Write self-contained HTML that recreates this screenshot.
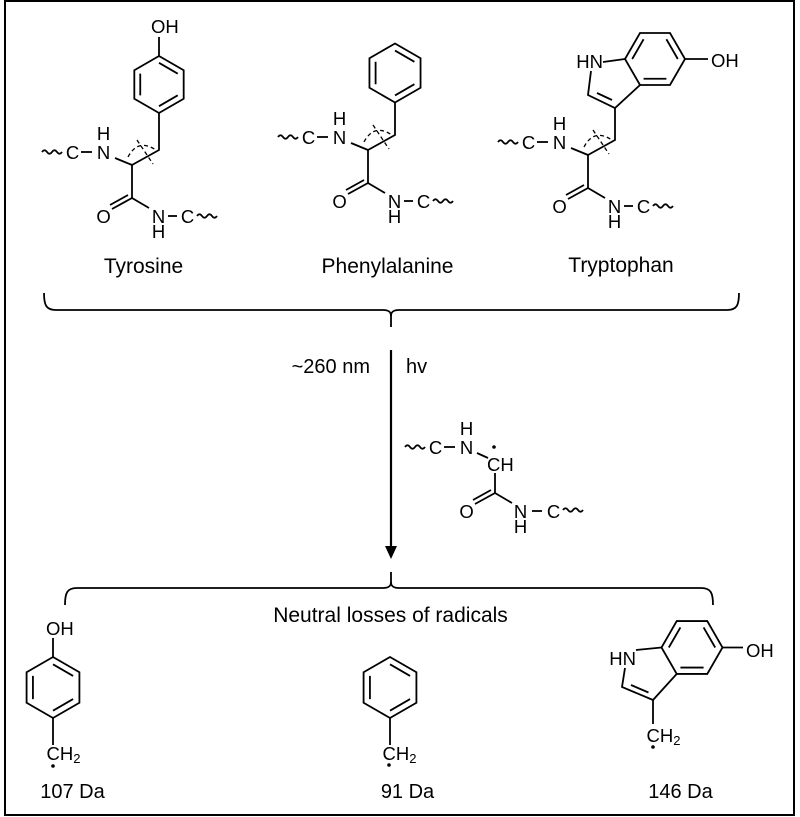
<!DOCTYPE html>
<html>
<head>
<meta charset="utf-8">
<style>
html,body{margin:0;padding:0;background:#fff;}
svg{display:block;}
text{font-family:"Liberation Sans",Arial,sans-serif;fill:#000;stroke:none;}
.a{font-size:18.5px;text-anchor:middle;}
.as{font-size:18.5px;}
.lbl{font-size:21px;text-anchor:middle;}
.da{font-size:20px;text-anchor:middle;}
.sub{font-size:13px;}
.ln{stroke:#000;stroke-width:1.8;fill:none;}
.dash{stroke:#000;stroke-width:1.3;fill:none;stroke-dasharray:4 3;}
.ring{stroke:#000;stroke-width:1.8;fill:none;}
</style>
</head>
<body>
<svg width="800" height="817" viewBox="0 0 800 817" xmlns="http://www.w3.org/2000/svg">
<rect x="5" y="1" width="789" height="814" fill="none" stroke="#000" stroke-width="2"/>

<!-- ============ TYROSINE (top) ============ -->
<g transform="translate(159,84.5) scale(28.5)">
  <path class="ring" vector-effect="non-scaling-stroke" d="M0,-1 L.866,-.5 L.866,.5 L0,1 L-.866,.5 L-.866,-.5 Z"/>
  <path class="ring" vector-effect="non-scaling-stroke" d="M0,-.76 L.658,-.38 M.658,.38 L0,.76 M-.658,.38 L-.658,-.38"/>
</g>
<line class="ln" x1="159" y1="37" x2="159" y2="56"/>
<text class="as" x="151" y="33">OH</text>
<g transform="translate(132,165)">
  <path class="ln" d="M0,0 L27,-15 L27,-52"/>
  <path class="dash" d="M5,-25 L21,-1"/>
  <path class="dash" d="M-4,-8 Q6,-27 24,-15"/>
  <path class="ln" d="M-90,-13 q2.5,-3.5 5,0 t5,0 t5,0 t5,0"/>
  <text class="a" x="-59.5" y="-6">C</text>
  <line class="ln" x1="-51" y1="-13" x2="-40" y2="-13"/>
  <text class="a" x="-28.5" y="-6">N</text>
  <text class="a" x="-28.5" y="-25">H</text>
  <line class="ln" x1="-17" y1="-7" x2="0" y2="0"/>
  <line class="ln" x1="0" y1="0" x2="0" y2="33"/>
  <line class="ln" x1="0" y1="33" x2="-20" y2="44"/>
  <line class="ln" x1="-4" y1="30" x2="-22" y2="40"/>
  <text class="a" x="-28.5" y="58">O</text>
  <line class="ln" x1="0" y1="33" x2="17" y2="43"/>
  <text class="a" x="26.5" y="58">N</text>
  <text class="a" x="26.5" y="73">H</text>
  <line class="ln" x1="36" y1="51" x2="45" y2="51"/>
  <text class="a" x="55.5" y="58">C</text>
  <path class="ln" d="M65,51 q2.5,-3.5 5,0 t5,0 t5,0 t5,0"/>
</g>
<text class="lbl" x="143.5" y="273">Tyrosine</text>

<!-- ============ PHENYLALANINE (top) ============ -->
<g transform="translate(395,73) scale(29.5)">
  <path class="ring" vector-effect="non-scaling-stroke" d="M0,-1 L.866,-.5 L.866,.5 L0,1 L-.866,.5 L-.866,-.5 Z"/>
  <path class="ring" vector-effect="non-scaling-stroke" d="M0,-.76 L.658,-.38 M.658,.38 L0,.76 M-.658,.38 L-.658,-.38"/>
</g>
<g transform="translate(368,150)">
  <path class="ln" d="M0,0 L27,-15 L27,-47"/>
  <path class="dash" d="M5,-25 L21,-1"/>
  <path class="dash" d="M-4,-8 Q6,-27 24,-15"/>
  <path class="ln" d="M-90,-13 q2.5,-3.5 5,0 t5,0 t5,0 t5,0"/>
  <text class="a" x="-59.5" y="-6">C</text>
  <line class="ln" x1="-51" y1="-13" x2="-40" y2="-13"/>
  <text class="a" x="-28.5" y="-6">N</text>
  <text class="a" x="-28.5" y="-25">H</text>
  <line class="ln" x1="-17" y1="-7" x2="0" y2="0"/>
  <line class="ln" x1="0" y1="0" x2="0" y2="33"/>
  <line class="ln" x1="0" y1="33" x2="-20" y2="44"/>
  <line class="ln" x1="-4" y1="30" x2="-22" y2="40"/>
  <text class="a" x="-28.5" y="58">O</text>
  <line class="ln" x1="0" y1="33" x2="17" y2="43"/>
  <text class="a" x="26.5" y="58">N</text>
  <text class="a" x="26.5" y="73">H</text>
  <line class="ln" x1="36" y1="51" x2="45" y2="51"/>
  <text class="a" x="55.5" y="58">C</text>
  <path class="ln" d="M65,51 q2.5,-3.5 5,0 t5,0 t5,0 t5,0"/>
</g>
<text class="lbl" x="387.5" y="273">Phenylalanine</text>

<!-- ============ TRYPTOPHAN (top) ============ -->
<g transform="translate(655,59) scale(30)">
  <path class="ring" vector-effect="non-scaling-stroke" d="M-1,0 L-.5,-.866 L.5,-.866 L1,0 L.5,.866 L-.5,.866 Z"/>
  <path class="ring" vector-effect="non-scaling-stroke" d="M-.76,0 L-.38,-.658 M.38,-.658 L.76,0 M.38,.658 L-.38,.658"/>
</g>
<line class="ln" x1="685" y1="59" x2="708" y2="59"/>
<text class="as" x="711" y="67">OH</text>
<text class="as" x="603" y="68" text-anchor="end">HN</text>
<path class="ln" d="M603,62 L625,59"/>
<path class="ln" d="M591,71 L588,95 L615,108 L640,85"/>
<line class="ln" x1="597" y1="93" x2="612" y2="100"/>
<g transform="translate(588,155)">
  <path class="ln" d="M0,0 L27,-15 L27,-47"/>
  <path class="dash" d="M5,-25 L21,-1"/>
  <path class="dash" d="M-4,-8 Q6,-27 24,-15"/>
  <path class="ln" d="M-90,-13 q2.5,-3.5 5,0 t5,0 t5,0 t5,0"/>
  <text class="a" x="-59.5" y="-6">C</text>
  <line class="ln" x1="-51" y1="-13" x2="-40" y2="-13"/>
  <text class="a" x="-28.5" y="-6">N</text>
  <text class="a" x="-28.5" y="-25">H</text>
  <line class="ln" x1="-17" y1="-7" x2="0" y2="0"/>
  <line class="ln" x1="0" y1="0" x2="0" y2="33"/>
  <line class="ln" x1="0" y1="33" x2="-20" y2="44"/>
  <line class="ln" x1="-4" y1="30" x2="-22" y2="40"/>
  <text class="a" x="-28.5" y="58">O</text>
  <line class="ln" x1="0" y1="33" x2="17" y2="43"/>
  <text class="a" x="26.5" y="58">N</text>
  <text class="a" x="26.5" y="73">H</text>
  <line class="ln" x1="36" y1="51" x2="45" y2="51"/>
  <text class="a" x="55.5" y="58">C</text>
  <path class="ln" d="M65,51 q2.5,-3.5 5,0 t5,0 t5,0 t5,0"/>
</g>
<text class="lbl" x="621" y="272">Tryptophan</text>

<!-- ============ TOP BRACE ============ -->
<path class="ln" d="M44,293 C44,305 46,310 56,310 L383,310 C389,310 391,312 391,316 L391,327"/>
<path class="ln" d="M739,293 C739,305 737,310 727,310 L399,310 C393,310 391,312 391,316"/>

<!-- ============ ARROW ============ -->
<line x1="391" y1="350" x2="391" y2="548" stroke="#000" stroke-width="2.2"/>
<polygon points="385,546 397,546 391,559" fill="#000"/>
<text x="370" y="373" style="font-size:20px;text-anchor:end;">~260 nm</text>
<text x="406" y="373" style="font-size:20px;">hv</text>

<!-- ============ RADICAL BACKBONE ============ -->
<g transform="translate(495,460)">
  <path class="ln" d="M-90,-13 q2.5,-3.5 5,0 t5,0 t5,0 t5,0"/>
  <text class="a" x="-59.5" y="-6">C</text>
  <line class="ln" x1="-51" y1="-13" x2="-40" y2="-13"/>
  <text class="a" x="-28.5" y="-6">N</text>
  <text class="a" x="-28.5" y="-25">H</text>
  <line class="ln" x1="-18" y1="-7" x2="-7" y2="-2"/>
  <text class="as" x="-8" y="11">CH</text>
  <circle cx="-1" cy="-13" r="1.8" fill="#000"/>
  <line class="ln" x1="0" y1="13" x2="0" y2="33"/>
  <line class="ln" x1="0" y1="33" x2="-20" y2="44"/>
  <line class="ln" x1="-4" y1="30" x2="-22" y2="40"/>
  <text class="a" x="-28.5" y="58">O</text>
  <line class="ln" x1="0" y1="33" x2="17" y2="43"/>
  <text class="a" x="25.5" y="58">N</text>
  <text class="a" x="25.5" y="73">H</text>
  <line class="ln" x1="37" y1="51" x2="47" y2="51"/>
  <text class="a" x="58.5" y="58">C</text>
  <path class="ln" d="M68,50 q2.5,-3.5 5,0 t5,0 t5,0 t5,0"/>
</g>

<!-- ============ BOTTOM BRACE ============ -->
<path class="ln" d="M65,605 C65,593 67,588 77,588 L383,588 C389,588 391,586 391,582 L391,572"/>
<path class="ln" d="M713,605 C713,593 711,588 701,588 L399,588 C393,588 391,586 391,582"/>
<text class="lbl" x="390.5" y="622">Neutral losses of radicals</text>

<!-- ============ BOTTOM TYROSINE RADICAL ============ -->
<text class="as" x="46" y="635">OH</text>
<line class="ln" x1="53" y1="638" x2="53" y2="657"/>
<g transform="translate(53,687.5) scale(30.5)">
  <path class="ring" vector-effect="non-scaling-stroke" d="M0,-1 L.866,-.5 L.866,.5 L0,1 L-.866,.5 L-.866,-.5 Z"/>
  <path class="ring" vector-effect="non-scaling-stroke" d="M0,-.76 L.658,-.38 M.658,.38 L0,.76 M-.658,.38 L-.658,-.38"/>
</g>
<line class="ln" x1="53" y1="718" x2="53" y2="745"/>
<text class="as" x="46.5" y="760">CH<tspan class="sub" dy="3">2</tspan></text>
<circle cx="53" cy="766" r="1.8" fill="#000"/>
<text class="da" x="72.5" y="798">107 Da</text>

<!-- ============ BOTTOM PHENYLALANINE RADICAL ============ -->
<g transform="translate(390,687.5) scale(30.5)">
  <path class="ring" vector-effect="non-scaling-stroke" d="M0,-1 L.866,-.5 L.866,.5 L0,1 L-.866,.5 L-.866,-.5 Z"/>
  <path class="ring" vector-effect="non-scaling-stroke" d="M0,-.76 L.658,-.38 M.658,.38 L0,.76 M-.658,.38 L-.658,-.38"/>
</g>
<line class="ln" x1="390" y1="718" x2="390" y2="745"/>
<text class="as" x="382.5" y="760">CH<tspan class="sub" dy="3">2</tspan></text>
<circle cx="389" cy="765" r="1.8" fill="#000"/>
<text class="da" x="407.5" y="798">91 Da</text>

<!-- ============ BOTTOM TRYPTOPHAN RADICAL ============ -->
<g transform="translate(692,647.5) scale(30.5)">
  <path class="ring" vector-effect="non-scaling-stroke" d="M-1,0 L-.5,-.866 L.5,-.866 L1,0 L.5,.866 L-.5,.866 Z"/>
  <path class="ring" vector-effect="non-scaling-stroke" d="M-.76,0 L-.38,-.658 M.38,-.658 L.76,0 M.38,.658 L-.38,.658"/>
</g>
<line class="ln" x1="722.5" y1="647.5" x2="743" y2="647.5"/>
<text class="as" x="746" y="657">OH</text>
<text class="as" x="636" y="665" text-anchor="end">HN</text>
<path class="ln" d="M636,650 L661.5,647.5"/>
<path class="ln" d="M625,668 L622,687 L653,700 L676.75,673.9"/>
<line class="ln" x1="631" y1="685" x2="648.5" y2="692.5"/>
<line class="ln" x1="653" y1="700" x2="653" y2="724"/>
<text class="as" x="646.5" y="742">CH<tspan class="sub" dy="3">2</tspan></text>
<circle cx="653" cy="747" r="1.8" fill="#000"/>
<text class="da" x="680.5" y="798">146 Da</text>

</svg>
</body>
</html>
